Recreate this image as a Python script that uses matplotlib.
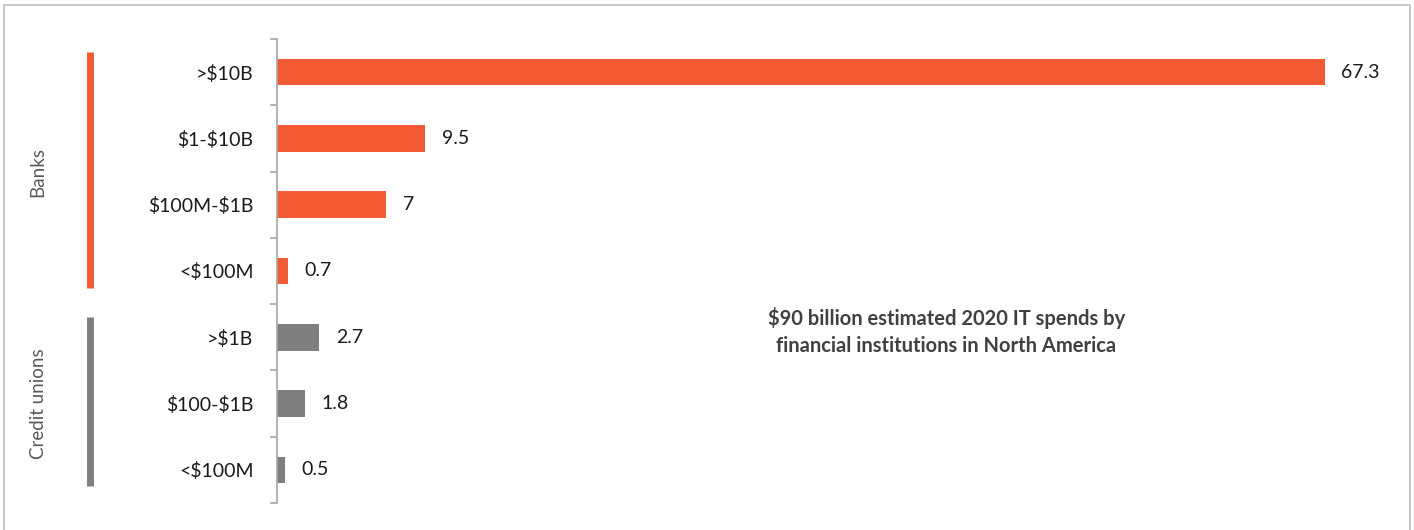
import matplotlib.pyplot as plt
from matplotlib.patches import Rectangle
from matplotlib.lines import Line2D

# data, top to bottom
categories = [">$10B", "$1-$10B", "$100M-$1B", "<$100M", ">$1B", "$100-$1B", "<$100M"]
values = [67.3, 9.5, 7, 0.7, 2.7, 1.8, 0.5]
groups = ["Banks", "Banks", "Banks", "Banks", "Credit unions", "Credit unions", "Credit unions"]
value_labels = ["67.3", "9.5", "7", "0.7", "2.7", "1.8", "0.5"]
note = "$90 billion estimated 2020 IT spends by\nfinancial institutions in North America"

ORANGE = "#F15A33"
GREY = "#7F7F7F"
group_colors = {"Banks": ORANGE, "Credit unions": GREY}

plt.rcParams['font.family'] = ['Lato', 'DejaVu Sans']
plt.rcParams['text.parse_math'] = False

W, H = 1414, 530
fig = plt.figure(figsize=(W / 100, H / 100), dpi=100)

# axes placement in pixels
left, right, top, bottom = 277, 1398, 39, 503
ax = fig.add_axes([left / W, 1 - bottom / H, (right - left) / W, (bottom - top) / H])
px = 72 / (right - left)  # data units per pixel on x

ypos = list(range(len(categories)))
colors = [group_colors[g] for g in groups]
ax.barh(ypos, values, height=0.4, color=colors)
ax.set_ylim(len(categories) - 0.5, -0.5)
ax.set_xlim(0, 72)

for y, v, lab in zip(ypos, values, value_labels):
    ax.annotate(lab, xy=(v, y), xytext=(12, 0), textcoords="offset points",
                va="center", ha="left", fontsize=14, color="#1a1a1a")

ax.set_yticks(ypos)
ax.set_yticklabels(categories, fontsize=14, color="#1a1a1a")
ax.set_yticks([i - 0.5 for i in range(len(categories) + 1)], minor=True)
ax.tick_params(axis="y", which="major", length=0, pad=17)
ax.tick_params(axis="y", which="minor", length=5, color="#A6A6A6", width=1.2)
ax.set_xticks([])
for s in ["top", "right", "bottom"]:
    ax.spines[s].set_visible(False)
ax.spines["left"].set_color("#A6A6A6")
ax.spines["left"].set_linewidth(1.2)

# group brackets and labels
for name in ["Banks", "Credit unions"]:
    idx = [i for i, g in enumerate(groups) if g == name]
    y0 = min(idx) - 0.3
    y1 = max(idx) + 0.25
    ax.add_line(Line2D([-187 * px, -187 * px], [y0, y1],
                       color=group_colors[name], lw=5, clip_on=False,
                       solid_capstyle="butt"))
    ax.text(-239 * px, (min(idx) + max(idx)) / 2, name, rotation=90,
            ha="center", va="center", fontsize=13.5, color="#595959")

ax.text(0.597, 0.37, note, transform=ax.transAxes, ha="center", va="center",
        fontsize=14.5, fontweight="bold", color="#404040", linespacing=1.4)

# outer chart border
fig.patches.append(Rectangle((4 / W, -0.02), 1406 / W, 1 - 5 / H + 0.02,
                             transform=fig.transFigure, fill=False,
                             edgecolor="#BFBFBF", lw=1.2))

fig.savefig("out.png", dpi=100)
